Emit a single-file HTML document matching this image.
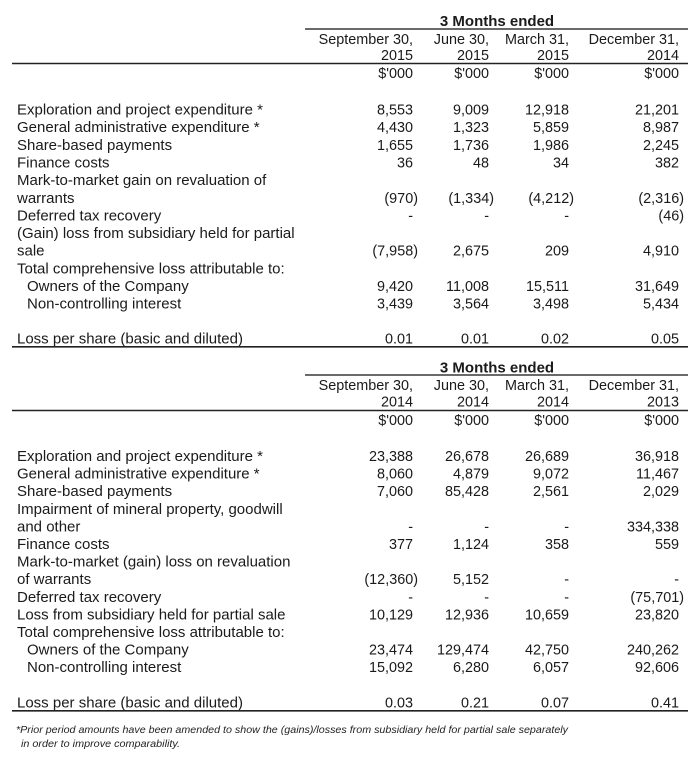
<!DOCTYPE html>
<html>
<head>
<meta charset="utf-8">
<style>
html,body{margin:0;padding:0;background:#fff;}
svg{display:block;}
text{font-family:"Liberation Sans",Arial,sans-serif;fill:#1a1a1a;}
.l{font-size:15px;}
.n{font-size:14.4px;text-anchor:end;}
.h{font-size:14.4px;text-anchor:end;}
.b{font-size:15px;font-weight:bold;text-anchor:middle;}
.f{font-size:10.5px;font-style:italic;fill:#222;}
</style>
</head>
<body>
<svg width="700" height="760" viewBox="0 0 700 760" xmlns="http://www.w3.org/2000/svg">
<rect width="700" height="760" fill="#fff"/>

<!-- ===== TABLE 1 ===== -->
<text class="b" x="497" y="26">3 Months ended</text>
<line x1="305" y1="29" x2="688" y2="29" stroke="#555" stroke-width="1.8"/>
<text class="h" x="413" y="44">September 30,</text>
<text class="h" x="489" y="44">June 30,</text>
<text class="h" x="569" y="44">March 31,</text>
<text class="h" x="679" y="44">December 31,</text>
<text class="h" x="413" y="60">2015</text>
<text class="h" x="489" y="60">2015</text>
<text class="h" x="569" y="60">2015</text>
<text class="h" x="679" y="60">2014</text>
<line x1="12" y1="63.5" x2="688" y2="63.5" stroke="#222" stroke-width="1.6"/>
<text class="h" x="413" y="78">$'000</text>
<text class="h" x="489" y="78">$'000</text>
<text class="h" x="569" y="78">$'000</text>
<text class="h" x="679" y="78">$'000</text>

<text class="l" x="17" y="114.5">Exploration and project expenditure *</text>
<text class="n" x="413" y="114.5">8,553</text><text class="n" x="489" y="114.5">9,009</text><text class="n" x="569" y="114.5">12,918</text><text class="n" x="679" y="114.5">21,201</text>

<text class="l" x="17" y="132.2">General administrative expenditure *</text>
<text class="n" x="413" y="132.2">4,430</text><text class="n" x="489" y="132.2">1,323</text><text class="n" x="569" y="132.2">5,859</text><text class="n" x="679" y="132.2">8,987</text>

<text class="l" x="17" y="149.8">Share-based payments</text>
<text class="n" x="413" y="149.8">1,655</text><text class="n" x="489" y="149.8">1,736</text><text class="n" x="569" y="149.8">1,986</text><text class="n" x="679" y="149.8">2,245</text>

<text class="l" x="17" y="167.5">Finance costs</text>
<text class="n" x="413" y="167.5">36</text><text class="n" x="489" y="167.5">48</text><text class="n" x="569" y="167.5">34</text><text class="n" x="679" y="167.5">382</text>

<text class="l" x="17" y="185.1">Mark-to-market gain on revaluation of</text>

<text class="l" x="17" y="202.8">warrants</text>
<text class="n" x="418" y="202.8">(970)</text><text class="n" x="494" y="202.8">(1,334)</text><text class="n" x="574" y="202.8">(4,212)</text><text class="n" x="684" y="202.8">(2,316)</text>

<text class="l" x="17" y="220.4">Deferred tax recovery</text>
<text class="n" x="413" y="220.4">-</text><text class="n" x="489" y="220.4">-</text><text class="n" x="569" y="220.4">-</text><text class="n" x="684" y="220.4">(46)</text>

<text class="l" x="17" y="238.1">(Gain) loss from subsidiary held for partial</text>

<text class="l" x="17" y="255.7">sale</text>
<text class="n" x="418" y="255.7">(7,958)</text><text class="n" x="489" y="255.7">2,675</text><text class="n" x="569" y="255.7">209</text><text class="n" x="679" y="255.7">4,910</text>

<text class="l" x="17" y="273.4">Total comprehensive loss attributable to:</text>

<text class="l" x="27" y="291">Owners of the Company</text>
<text class="n" x="413" y="291">9,420</text><text class="n" x="489" y="291">11,008</text><text class="n" x="569" y="291">15,511</text><text class="n" x="679" y="291">31,649</text>

<text class="l" x="27" y="308.7">Non-controlling interest</text>
<text class="n" x="413" y="308.7">3,439</text><text class="n" x="489" y="308.7">3,564</text><text class="n" x="569" y="308.7">3,498</text><text class="n" x="679" y="308.7">5,434</text>

<text class="l" x="17" y="343.6">Loss per share (basic and diluted)</text>
<text class="n" x="413" y="343.6">0.01</text><text class="n" x="489" y="343.6">0.01</text><text class="n" x="569" y="343.6">0.02</text><text class="n" x="679" y="343.6">0.05</text>
<line x1="12" y1="346.8" x2="688" y2="346.8" stroke="#222" stroke-width="1.6"/>

<!-- ===== TABLE 2 ===== -->
<text class="b" x="497" y="372.5">3 Months ended</text>
<line x1="305" y1="375" x2="688" y2="375" stroke="#555" stroke-width="1.8"/>
<text class="h" x="413" y="390">September 30,</text>
<text class="h" x="489" y="390">June 30,</text>
<text class="h" x="569" y="390">March 31,</text>
<text class="h" x="679" y="390">December 31,</text>
<text class="h" x="413" y="406.7">2014</text>
<text class="h" x="489" y="406.7">2014</text>
<text class="h" x="569" y="406.7">2014</text>
<text class="h" x="679" y="406.7">2013</text>
<line x1="12" y1="410.5" x2="688" y2="410.5" stroke="#222" stroke-width="1.6"/>
<text class="h" x="413" y="425">$'000</text>
<text class="h" x="489" y="425">$'000</text>
<text class="h" x="569" y="425">$'000</text>
<text class="h" x="679" y="425">$'000</text>

<text class="l" x="17" y="461">Exploration and project expenditure *</text>
<text class="n" x="413" y="461">23,388</text><text class="n" x="489" y="461">26,678</text><text class="n" x="569" y="461">26,689</text><text class="n" x="679" y="461">36,918</text>

<text class="l" x="17" y="478.6">General administrative expenditure *</text>
<text class="n" x="413" y="478.6">8,060</text><text class="n" x="489" y="478.6">4,879</text><text class="n" x="569" y="478.6">9,072</text><text class="n" x="679" y="478.6">11,467</text>

<text class="l" x="17" y="496.2">Share-based payments</text>
<text class="n" x="413" y="496.2">7,060</text><text class="n" x="489" y="496.2">85,428</text><text class="n" x="569" y="496.2">2,561</text><text class="n" x="679" y="496.2">2,029</text>

<text class="l" x="17" y="513.8">Impairment of mineral property, goodwill</text>

<text class="l" x="17" y="531.4">and other</text>
<text class="n" x="413" y="531.4">-</text><text class="n" x="489" y="531.4">-</text><text class="n" x="569" y="531.4">-</text><text class="n" x="679" y="531.4">334,338</text>

<text class="l" x="17" y="549">Finance costs</text>
<text class="n" x="413" y="549">377</text><text class="n" x="489" y="549">1,124</text><text class="n" x="569" y="549">358</text><text class="n" x="679" y="549">559</text>

<text class="l" x="17" y="566.6">Mark-to-market (gain) loss on revaluation</text>

<text class="l" x="17" y="584.2">of warrants</text>
<text class="n" x="418" y="584.2">(12,360)</text><text class="n" x="489" y="584.2">5,152</text><text class="n" x="569" y="584.2">-</text><text class="n" x="679" y="584.2">-</text>

<text class="l" x="17" y="601.8">Deferred tax recovery</text>
<text class="n" x="413" y="601.8">-</text><text class="n" x="489" y="601.8">-</text><text class="n" x="569" y="601.8">-</text><text class="n" x="684" y="601.8">(75,701)</text>

<text class="l" x="17" y="619.4">Loss from subsidiary held for partial sale</text>
<text class="n" x="413" y="619.4">10,129</text><text class="n" x="489" y="619.4">12,936</text><text class="n" x="569" y="619.4">10,659</text><text class="n" x="679" y="619.4">23,820</text>

<text class="l" x="17" y="637">Total comprehensive loss attributable to:</text>

<text class="l" x="27" y="654.6">Owners of the Company</text>
<text class="n" x="413" y="654.6">23,474</text><text class="n" x="489" y="654.6">129,474</text><text class="n" x="569" y="654.6">42,750</text><text class="n" x="679" y="654.6">240,262</text>

<text class="l" x="27" y="672.2">Non-controlling interest</text>
<text class="n" x="413" y="672.2">15,092</text><text class="n" x="489" y="672.2">6,280</text><text class="n" x="569" y="672.2">6,057</text><text class="n" x="679" y="672.2">92,606</text>

<text class="l" x="17" y="707.4">Loss per share (basic and diluted)</text>
<text class="n" x="413" y="707.4">0.03</text><text class="n" x="489" y="707.4">0.21</text><text class="n" x="569" y="707.4">0.07</text><text class="n" x="679" y="707.4">0.41</text>
<line x1="12" y1="710.8" x2="688" y2="710.8" stroke="#222" stroke-width="1.6"/>

<!-- footnote -->
<text class="f" x="16" y="733" textLength="552" lengthAdjust="spacingAndGlyphs">*Prior period amounts have been amended to show the (gains)/losses from subsidiary held for partial sale separately</text>
<text class="f" x="21" y="747" textLength="159" lengthAdjust="spacingAndGlyphs">in order to improve comparability.</text>
</svg>
</body>
</html>
